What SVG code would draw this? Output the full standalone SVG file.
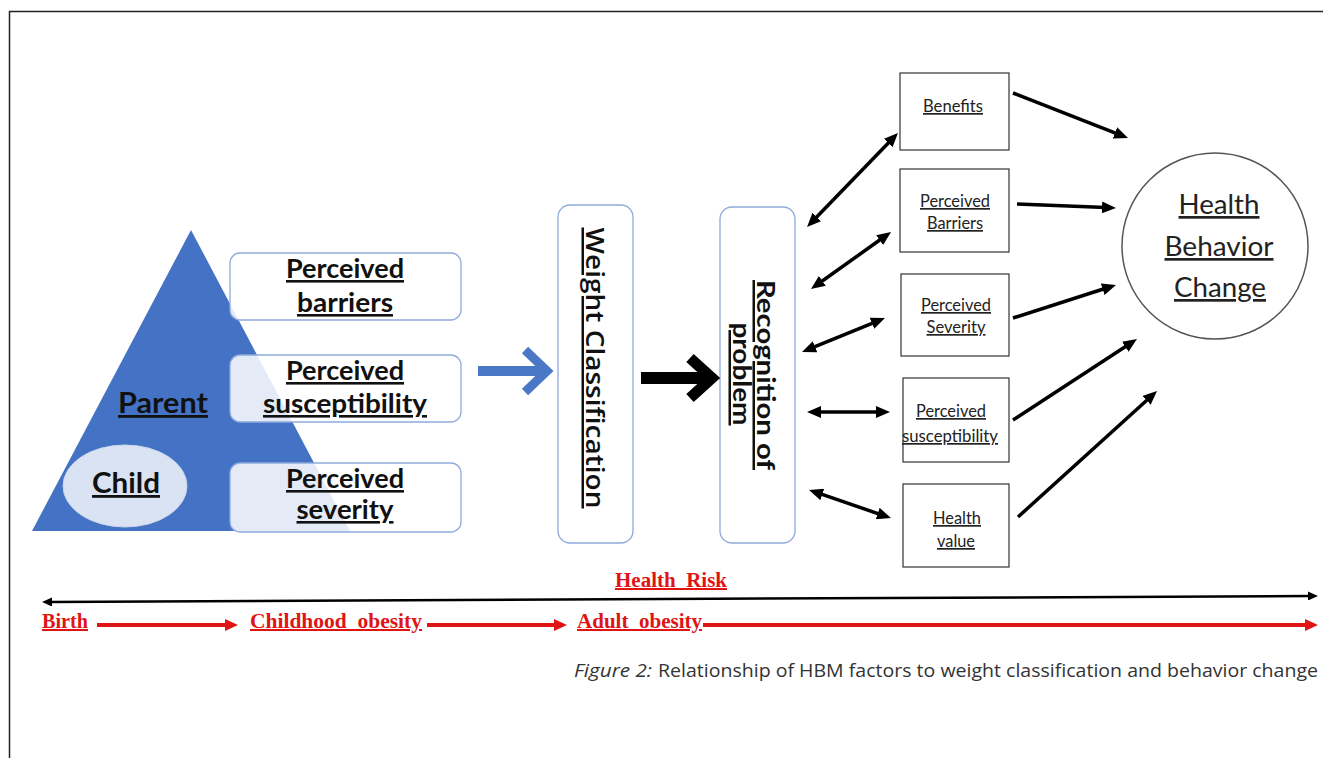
<svg xmlns="http://www.w3.org/2000/svg" width="1323" height="758" viewBox="0 0 1323 758">
<style>
.lbl{font-family:Lato,"Liberation Sans",sans-serif;font-weight:700;fill:#111;text-decoration:underline;}
.sm{font-family:Lato,"Liberation Sans",sans-serif;font-weight:400;fill:#222;font-size:17px;text-decoration:underline;text-anchor:middle;}
.big{font-family:Lato,"Liberation Sans",sans-serif;font-weight:400;fill:#222;font-size:27px;text-decoration:underline;text-anchor:middle;}
.red{font-family:"Liberation Serif",serif;font-weight:700;fill:#e01414;font-size:20px;text-decoration:underline;white-space:pre;}
.lbox{fill:#fff;fill-opacity:0.86;stroke:#8faadc;stroke-width:1.3;}
.rbox{fill:#fff;stroke:#333;stroke-width:1.2;}
.con{stroke:#000;stroke-width:3.5;fill:none;}
.cap{font-family:"Open Sans","Liberation Sans",sans-serif;font-size:18px;fill:#333;}
.wc{font-family:"Open Sans","Liberation Sans",sans-serif;font-weight:600;fill:#111;text-decoration:underline;font-size:25px;}
</style>
<defs>
<marker id="ah" viewBox="0 0 14 12" markerWidth="14" markerHeight="12" markerUnits="userSpaceOnUse" refX="4" refY="6" orient="auto-start-reverse"><path d="M0,0 L14,6 L0,12 z" fill="#000"/></marker>
<marker id="tk" viewBox="0 0 10 9" markerWidth="10" markerHeight="9" markerUnits="userSpaceOnUse" refX="3" refY="4.5" orient="auto-start-reverse"><path d="M0,0 L10,4.5 L0,9 z" fill="#000"/></marker>
<marker id="rh" viewBox="0 0 13 12" markerWidth="13" markerHeight="12" markerUnits="userSpaceOnUse" refX="4" refY="6" orient="auto"><path d="M0,0 L13,6 L0,12 z" fill="#e01414"/></marker>
</defs>
<rect width="1323" height="758" fill="#fff"/>
<path d="M9.5,758 V11.5 H1323" fill="none" stroke="#222" stroke-width="1.5"/>

<g id="pyramid">
<polygon points="191,230 32,531 350,531" fill="#4472c4"/>
<text class="lbl" x="163" y="413" font-size="28" text-anchor="middle" textLength="90" lengthAdjust="spacingAndGlyphs">Parent</text>
</g>
<g id="child">
<ellipse cx="125" cy="486" rx="62" ry="41" fill="#dae3f3" stroke="#c9d5ea" stroke-width="1"/>
<text class="lbl" x="126" y="493" font-size="28" text-anchor="middle" textLength="68" lengthAdjust="spacingAndGlyphs">Child</text>
</g>
<g id="perceived-barriers">
<rect class="lbox" x="230" y="253" width="231" height="67" rx="10"/>
<text class="lbl" x="345" y="278" font-size="26" text-anchor="middle" textLength="118" lengthAdjust="spacingAndGlyphs">Perceived</text>
<text class="lbl" x="345" y="312" font-size="26" text-anchor="middle" textLength="96" lengthAdjust="spacingAndGlyphs">barriers</text>
</g>
<g id="perceived-susceptibility">
<rect class="lbox" x="230" y="355" width="231" height="67" rx="10"/>
<text class="lbl" x="345" y="380" font-size="26" text-anchor="middle" textLength="118" lengthAdjust="spacingAndGlyphs">Perceived</text>
<text class="lbl" x="345" y="413" font-size="26" text-anchor="middle" textLength="164" lengthAdjust="spacingAndGlyphs">susceptibility</text>
</g>
<g id="perceived-severity">
<rect class="lbox" x="230" y="463" width="231" height="69" rx="10"/>
<text class="lbl" x="345" y="488" font-size="26" text-anchor="middle" textLength="118" lengthAdjust="spacingAndGlyphs">Perceived</text>
<text class="lbl" x="345" y="519" font-size="26" text-anchor="middle" textLength="97" lengthAdjust="spacingAndGlyphs">severity</text>
</g>
<g id="weight-classification">
<rect x="558" y="205" width="75" height="338" rx="12" fill="#fff" stroke="#8faadc" stroke-width="1.3"/>
<text class="wc" transform="translate(586,368) rotate(90)" text-anchor="middle" textLength="281" lengthAdjust="spacingAndGlyphs">Weight Classification</text>
</g>
<g id="recognition">
<rect x="720" y="207" width="75" height="336" rx="12" fill="#fff" stroke="#8faadc" stroke-width="1.3"/>
<text class="lbl" transform="translate(757,375) rotate(90)" font-size="25" text-anchor="middle" textLength="190" lengthAdjust="spacingAndGlyphs">Recognition of</text>
<text class="lbl" transform="translate(733,374) rotate(90)" font-size="25" text-anchor="middle" textLength="103" lengthAdjust="spacingAndGlyphs">problem</text>
</g>
<g id="benefits">
<rect class="rbox" x="900" y="73" width="109" height="77"/>
<text class="sm" x="953" y="112" textLength="60" lengthAdjust="spacingAndGlyphs">Benefits</text>
</g>
<g id="perceived-barriers-2">
<rect class="rbox" x="900" y="169" width="109" height="83"/>
<text class="sm" x="955" y="207" textLength="70" lengthAdjust="spacingAndGlyphs">Perceived</text>
<text class="sm" x="955" y="229" textLength="56" lengthAdjust="spacingAndGlyphs">Barriers</text>
</g>
<g id="perceived-severity-2">
<rect class="rbox" x="901" y="274" width="108" height="82"/>
<text class="sm" x="956" y="311" textLength="70" lengthAdjust="spacingAndGlyphs">Perceived</text>
<text class="sm" x="956" y="333" textLength="59" lengthAdjust="spacingAndGlyphs">Severity</text>
</g>
<g id="perceived-susceptibility-2">
<rect class="rbox" x="903" y="378" width="106" height="84"/>
<text class="sm" x="951" y="417" textLength="70" lengthAdjust="spacingAndGlyphs">Perceived</text>
<text class="sm" x="950" y="442" textLength="96" lengthAdjust="spacingAndGlyphs">susceptibility</text>
</g>
<g id="health-value">
<rect class="rbox" x="903" y="484" width="106" height="83"/>
<text class="sm" x="957" y="524" textLength="48" lengthAdjust="spacingAndGlyphs">Health</text>
<text class="sm" x="956" y="547" textLength="38" lengthAdjust="spacingAndGlyphs">value</text>
</g>
<g id="health-behavior-change">
<circle cx="1215" cy="246" r="93" fill="#fff" stroke="#555" stroke-width="1.5"/>
<text class="big" x="1219" y="214" textLength="81" lengthAdjust="spacingAndGlyphs">Health</text>
<text class="big" x="1219" y="256" textLength="109" lengthAdjust="spacingAndGlyphs">Behavior</text>
<text class="big" x="1220" y="297" textLength="92" lengthAdjust="spacingAndGlyphs">Change</text>
</g>

<g id="connectors">
<path d="M478,371 H541" stroke="#4a78c6" stroke-width="10" fill="none"/>
<path d="M525,350 L547,371 L525,392" stroke="#4a78c6" stroke-width="9" fill="none" stroke-linejoin="miter"/>
<path d="M641,378 H706" stroke="#000" stroke-width="12" fill="none"/>
<path d="M690,358 L712,378 L690,398" stroke="#000" stroke-width="11" fill="none" stroke-linejoin="miter"/>
<line class="con" x1="814" y1="219.8" x2="891" y2="140.2" marker-start="url(#ah)" marker-end="url(#ah)"/>
<line class="con" x1="819.1" y1="283.2" x2="882.9" y2="237.8" marker-start="url(#ah)" marker-end="url(#ah)"/>
<line class="con" x1="811.3" y1="348.2" x2="875.7" y2="321.8" marker-start="url(#ah)" marker-end="url(#ah)"/>
<line class="con" x1="817" y1="412" x2="880" y2="412" marker-start="url(#ah)" marker-end="url(#ah)"/>
<line class="con" x1="818.5" y1="493.2" x2="881.5" y2="514.8" marker-start="url(#ah)" marker-end="url(#ah)"/>
<line class="con" x1="1013" y1="93" x2="1118.7" y2="134.4" marker-end="url(#ah)"/>
<line class="con" x1="1017" y1="204" x2="1106" y2="207.6" marker-end="url(#ah)"/>
<line class="con" x1="1013" y1="318" x2="1106.5" y2="288" marker-end="url(#ah)"/>
<line class="con" x1="1013" y1="420" x2="1128.6" y2="344.5" marker-end="url(#ah)"/>
<line class="con" x1="1018" y1="517" x2="1149.6" y2="397.7" marker-end="url(#ah)"/>
<line x1="49" y1="602" x2="1311" y2="596" stroke="#000" stroke-width="2.5" marker-start="url(#tk)" marker-end="url(#tk)"/>
<line x1="97" y1="625" x2="229" y2="625" stroke="#e01414" stroke-width="4" marker-end="url(#rh)"/>
<line x1="427" y1="625" x2="558" y2="625" stroke="#e01414" stroke-width="4" marker-end="url(#rh)"/>
<line x1="703" y1="625" x2="1309" y2="625" stroke="#e01414" stroke-width="4" marker-end="url(#rh)"/>
</g>

<g id="timeline-labels">
<text class="red" x="615" y="587" textLength="112" lengthAdjust="spacingAndGlyphs">Health  Risk</text>
<text class="red" x="42" y="628" textLength="46" lengthAdjust="spacingAndGlyphs">Birth</text>
<text class="red" x="250" y="628" textLength="172" lengthAdjust="spacingAndGlyphs">Childhood  obesity</text>
<text class="red" x="577" y="628" textLength="125" lengthAdjust="spacingAndGlyphs">Adult  obesity</text>
</g>
<g id="caption">
<text class="cap" x="574" y="677" font-style="italic" textLength="78" lengthAdjust="spacingAndGlyphs">Figure 2:</text>
<text class="cap" x="658" y="677" textLength="660" lengthAdjust="spacingAndGlyphs">Relationship of HBM factors to weight classification and behavior change</text>
</g>
</svg>
